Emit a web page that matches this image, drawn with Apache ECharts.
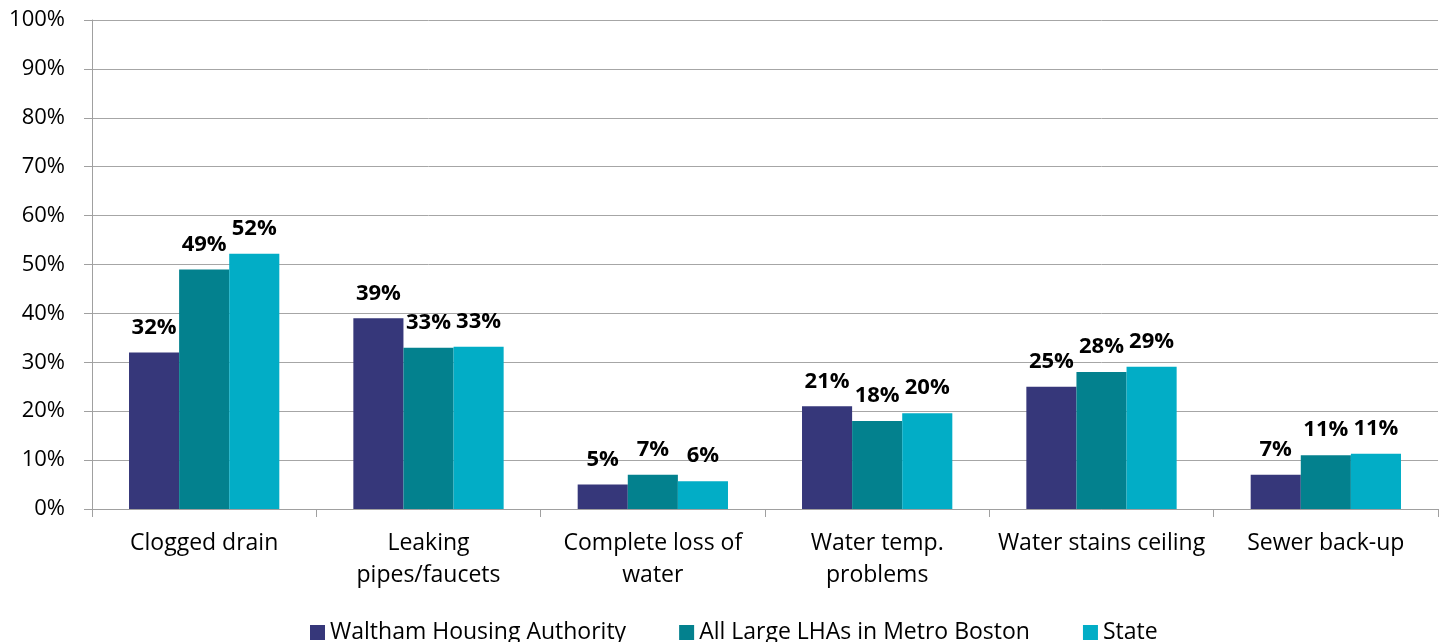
<!DOCTYPE html>
<html>
<head>
<meta charset="utf-8">
<script src="https://cdn.jsdelivr.net/npm/echarts@6/dist/echarts.min.js"></script>
<style>html,body{margin:0;padding:0;background:#fff}#c{width:1447px;height:642px}</style>
</head>
<body>
<div id="c"></div>
<script>
const categories = ['Clogged drain', 'Leaking\npipes/faucets', 'Complete loss of\nwater', 'Water temp.\nproblems', 'Water stains ceiling', 'Sewer back-up'];
const seriesNames = ['Waltham Housing Authority', 'All Large LHAs in Metro Boston', 'State'];
const waltham = [32, 39, 5, 21, 25, 7];
const allLarge = [49, 33, 7, 18, 28, 11];
const stateVals = [52.2, 33.2, 5.7, 19.6, 29.1, 11.3];
const yTicks = {min: 0, max: 100, interval: 10};

const FONT = '"Open Sans", sans-serif';
const colors = ['#36377a', '#03818e', '#02adc6'];
const dataSets = [waltham, allLarge, stateVals];

const chart = echarts.init(document.getElementById('c'), null, {renderer: 'canvas'});
chart.setOption({
  animation: false,
  textStyle: {fontFamily: FONT},
  grid: {left: 92, right: 9, top: 20, bottom: 133, containLabel: false},
  legend: {
    left: 305, top: 616,
    icon: 'rect', itemWidth: 15, itemHeight: 15, itemGap: 53,
    textStyle: {fontFamily: FONT, fontSize: 23, color: '#000'},
    data: seriesNames
  },
  xAxis: {
    type: 'category',
    data: categories,
    axisLine: {lineStyle: {color: '#a0a0a0', width: 1}},
    axisTick: {show: true, alignWithLabel: false, length: 8, lineStyle: {color: '#a0a0a0'}},
    axisLabel: {fontFamily: FONT, fontSize: 23, color: '#000', margin: 18, lineHeight: 32, interval: 0}
  },
  yAxis: {
    type: 'value',
    min: yTicks.min, max: yTicks.max, interval: yTicks.interval,
    axisLine: {show: true, lineStyle: {color: '#a0a0a0', width: 1}},
    axisTick: {show: true, length: 8, lineStyle: {color: '#a0a0a0'}},
    splitLine: {show: true, lineStyle: {color: '#a6a6a6', width: 1}},
    axisLabel: {fontFamily: FONT, fontSize: 22, color: '#000', margin: 27, formatter: '{value}%'}
  },
  series: dataSets.map((d, i) => ({
    name: seriesNames[i],
    type: 'bar',
    data: d,
    barGap: 0,
    barCategoryGap: '33%',
    itemStyle: {color: colors[i]},
    label: {
      show: true, position: 'top', distance: 14,
      fontFamily: FONT, fontSize: 22, fontWeight: 'bold', color: '#000',
      formatter: p => Math.round(p.value) + '%'
    }
  }))
});
</script>
</body>
</html>
